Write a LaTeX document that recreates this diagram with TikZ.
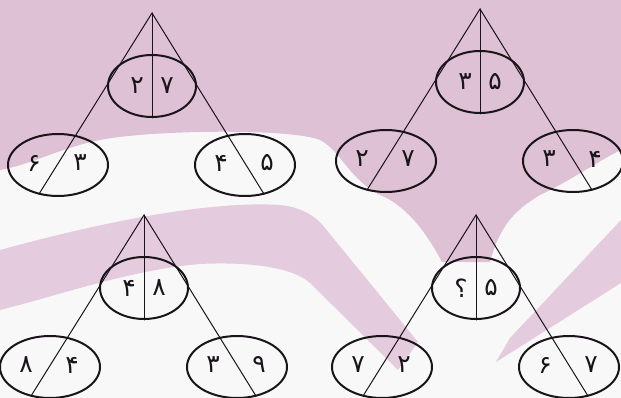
\documentclass[tikz,border=0pt]{standalone}
\usepackage{fontspec}
\usepackage{tikz}
\usetikzlibrary{shapes.geometric}
\newfontfamily\arabicfont[Script=Arabic]{DejaVu Sans}
\definecolor{mauvec}{RGB}{222,193,212}
\definecolor{bandc}{RGB}{228,203,221}
\definecolor{paperc}{RGB}{249,248,249}
\definecolor{inkc}{RGB}{25,20,25}

\begin{document}
\begin{tikzpicture}[x=1pt, y=-1pt, line cap=round,
    topnode/.style={ellipse, draw=inkc, line width=2pt, minimum width=88pt, minimum height=62pt, inner sep=0pt},
    leafnode/.style={ellipse, draw=inkc, line width=2pt, minimum width=100pt, minimum height=62pt, inner sep=0pt},
    digit/.style={inkc, inner sep=0pt, font=\arabicfont\fontsize{25}{25}\selectfont},
    link/.style={inkc, line width=1pt}]
  \useasboundingbox (0,0) rectangle (621,398);

  % watermark behind the trees
  \fill[paperc] (0,0) rectangle (621,398);
  \fill[mauvec] (0,0) -- (621,0) -- (621,150)
    .. controls (600,160) and (575,178) .. (540,195)
    .. controls (515,210) and (500,225) .. (490,262) -- (442,262)
    .. controls (425,230) and (405,205) .. (380,195)
    .. controls (350,180) and (340,150) .. (320,140)
    .. controls (290,128) and (150,130) .. (100,140)
    .. controls (60,148) and (30,165) .. (0,170) -- cycle;
  \fill[bandc] (0,250) .. controls (80,228) and (200,200) .. (280,205)
    .. controls (300,207) and (315,215) .. (325,228) -- (418,342) -- (398,370)
    -- (310,283) .. controls (290,265) and (240,262) .. (200,264)
    .. controls (130,270) and (60,295) .. (0,310) -- cycle;
  \fill[bandc] (621,220) -- (510,338) -- (496,362) -- (621,283) -- cycle;

  % four trees: apex, top ellipse, two leaves
  \foreach \t/\ax/\ay/\pa/\pb/\la/\lb/\ra/\rb in
      {1/152/13/۲/۷/۶/۳/۴/۵, 2/480/9/۳/۵/۲/۷/۳/۴,
       3/144/215/۴/۸/۸/۴/۳/۹, 4/476/215/؟/۵/۷/۲/۶/۷}{
    \coordinate (apex\t) at (\ax,\ay);
    \coordinate (endl\t) at ({\ax-113},{\ay+181});
    \coordinate (endr\t) at ({\ax+112},{\ay+181});
    \node[topnode] (top\t) at (\ax,{\ay+73}) {};
    \node[leafnode] (left\t) at ({\ax-94},{\ay+152}) {};
    \node[leafnode] (right\t) at ({\ax+93},{\ay+152}) {};
    \draw[link] (apex\t) -- (top\t.south);
    \draw[link] (apex\t) -- (endl\t);
    \draw[link] (apex\t) -- (endr\t);
    \node[digit] (pa\t) at ({\ax-15},{\ay+73}) {\pa};
    \node[digit] (pb\t) at ({\ax+15},{\ay+73}) {\pb};
    \node[digit] (la\t) at ({\ax-118},{\ay+150}) {\la};
    \node[digit] (lb\t) at ({\ax-72},{\ay+150}) {\lb};
    \node[digit] (ra\t) at ({\ax+69},{\ay+150}) {\ra};
    \node[digit] (rb\t) at ({\ax+115},{\ay+150}) {\rb};
  }
\end{tikzpicture}
\end{document}
